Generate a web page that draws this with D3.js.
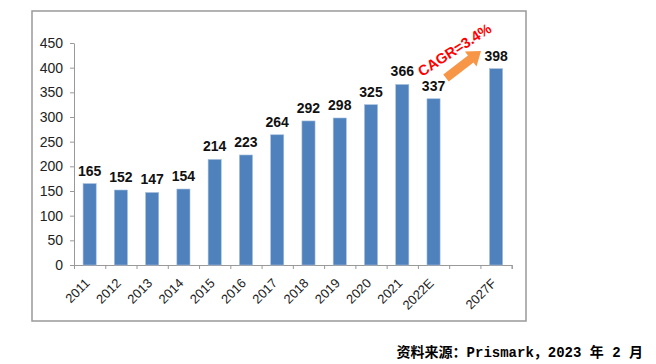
<!DOCTYPE html>
<head>
    <meta charset="utf-8">
    <title>Prismark</title>
    <script src="https://d3js.org/d3.v7.min.js"></script>
    <style>
        body { margin: 0; background: #fff; }
        text { font-family: "Liberation Sans", Arial, sans-serif; }
    </style>
</head>
<body>
    <script>
        const years = ["2011", "2012", "2013", "2014", "2015", "2016", "2017", "2018", "2019", "2020", "2021", "2022E", "", "2027F"]
        const values = [165, 152, 147, 154, 214, 223, 264, 292, 298, 325, 366, 337, null, 398]
        const yTicks = [0, 50, 100, 150, 200, 250, 300, 350, 400, 450]
        const cagrLabel = "CAGR=3.4%"
        const sourceNote = "资料来源：Prismark，2023 年 2 月"

        const width = 656
        const height = 364

        const svg = d3.select("body").append("svg")
            .attr("width", width)
            .attr("height", height)

        // chart frame
        svg.append("rect")
            .attr("x", 32).attr("y", 11)
            .attr("width", 494).attr("height", 310)
            .attr("fill", "none")
            .attr("stroke", "#999")
            .attr("stroke-width", 1.5)

        const x = d3.scaleBand().domain(d3.range(years.length)).range([74, 511.7]).paddingInner(0.58).paddingOuter(0.29)
        const y = d3.scaleLinear().domain([0, 450]).range([265, 43])

        const yAxis = svg.append("g")
            .attr("transform", "translate(74,0)")
            .call(d3.axisLeft(y).tickValues(yTicks).tickSize(4).tickPadding(7).tickSizeOuter(0))
        yAxis.select(".domain").attr("stroke", "#999")
        yAxis.selectAll(".tick line").attr("stroke", "#999")
        yAxis.selectAll(".tick text").attr("font-size", 14).attr("fill", "#222").attr("font-family", "Liberation Sans, Arial")

        // x axis: ticks at band boundaries
        const xb = d3.scaleLinear().domain([0, years.length]).range([74, 511.7])
        const xAxis = svg.append("g")
            .attr("transform", `translate(0,${y(0)})`)
            .call(d3.axisBottom(xb).tickValues(d3.range(years.length + 1)).tickSize(4).tickFormat(""))
        xAxis.select(".domain").attr("stroke", "#999")
        xAxis.selectAll(".tick line").attr("stroke", "#999")

        svg.append("g").selectAll("text")
            .data(years)
            .join("text")
            .attr("transform", (d, i) => `translate(${x(i) + x.bandwidth() / 2 + 1},${y(0) + 19}) rotate(-45)`)
            .attr("text-anchor", "end")
            .attr("font-size", 13)
            .attr("fill", "#222")
            .text(d => d)

        const data = values.map((v, i) => ({ i, v })).filter(d => d.v !== null)

        svg.append("g").selectAll("rect")
            .data(data)
            .join("rect")
            .attr("x", d => x(d.i))
            .attr("y", d => y(d.v))
            .attr("width", x.bandwidth())
            .attr("height", d => y(0) - y(d.v))
            .attr("fill", "#4F81BD")
            .attr("stroke", "#A7C0DE")
            .attr("stroke-width", 0.6)

        svg.append("g").selectAll("text")
            .data(data)
            .join("text")
            .attr("x", d => x(d.i) + x.bandwidth() / 2)
            .attr("y", d => y(d.v) - 8)
            .attr("text-anchor", "middle")
            .attr("font-size", 14)
            .attr("font-weight", "bold")
            .attr("fill", "#111")
            .text(d => d.v)

        // CAGR arrow
        const ax0 = 446, ay0 = 78, ax1 = 481, ay1 = 51
        const ang = Math.atan2(ay1 - ay0, ax1 - ax0)
        const len = Math.hypot(ax1 - ax0, ay1 - ay0)
        svg.append("path")
            .attr("transform", `translate(${ax0},${ay0}) rotate(${ang * 180 / Math.PI})`)
            .attr("d", `M0,-4.5 L${len - 13},-4.5 L${len - 13},-9.5 L${len},0 L${len - 13},9.5 L${len - 13},4.5 L0,4.5 Z`)
            .attr("fill", "#F79646")

        svg.append("text")
            .attr("transform", "translate(422,77) rotate(-33)")
            .attr("font-size", 14.5)
            .attr("font-weight", "bold")
            .attr("fill", "#FF0000")
            .text(cagrLabel)

        svg.append("text")
            .attr("x", 643).attr("y", 357)
            .attr("text-anchor", "end")
            .attr("font-size", 14)
            .attr("font-weight", "bold")
            .attr("fill", "#000")
            .style("font-family", "'Liberation Mono', 'Noto Sans CJK SC', monospace")
            .text(sourceNote)
    </script>
</body>
